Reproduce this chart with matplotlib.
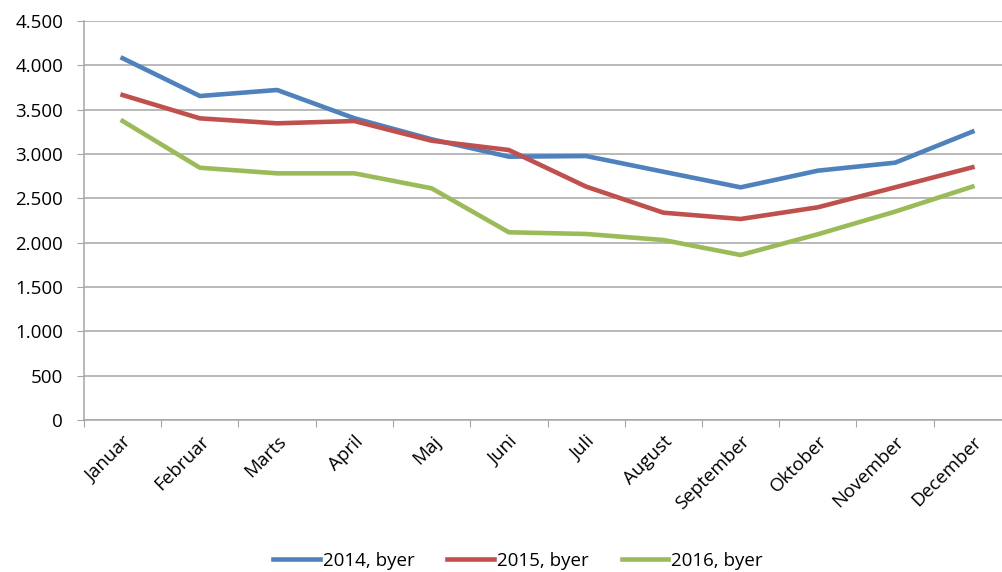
import matplotlib.pyplot as plt
from matplotlib.ticker import FuncFormatter, MultipleLocator

plt.rcParams['font.family'] = ['Open Sans', 'DejaVu Sans']

months = ['Januar', 'Februar', 'Marts', 'April', 'Maj', 'Juni', 'Juli',
          'August', 'September', 'Oktober', 'November', 'December']
byer_2014 = [4080, 3654, 3722, 3403, 3166, 2970, 2977, 2800, 2624, 2812, 2902, 3252]
byer_2015 = [3665, 3402, 3346, 3372, 3150, 3045, 2632, 2338, 2267, 2399, 2624, 2850]
byer_2016 = [3372, 2845, 2782, 2782, 2613, 2117, 2098, 2030, 1861, 2095, 2350, 2632]

fig = plt.figure(figsize=(10.02, 5.72), dpi=100)
ax = fig.add_axes([84 / 1002, 1 - 420 / 572, 927 / 1002, 399 / 572])

x = range(len(months))
ax.plot(x, byer_2014, color='#4F81BD', lw=3.3, label='2014, byer', solid_joinstyle='round')
ax.plot(x, byer_2015, color='#C0504D', lw=3.3, label='2015, byer', solid_joinstyle='round')
ax.plot(x, byer_2016, color='#9BBB59', lw=3.3, label='2016, byer', solid_joinstyle='round')

ax.set_xlim(-0.5, 11.5)
ax.set_ylim(0, 4500)
ax.yaxis.set_major_locator(MultipleLocator(500))
ax.yaxis.set_major_formatter(FuncFormatter(lambda v, p: f'{int(v):,}'.replace(',', '.')))
ax.grid(axis='y', color='#A6A6A6', lw=1.1)
ax.set_axisbelow(True)

ax.set_xticks([i - 0.5 for i in range(13)])
ax.set_xticklabels([])
ax.set_xticks(list(x), minor=True)
ax.set_xticklabels(months, minor=True, rotation=45, ha='right', rotation_mode='anchor')
ax.tick_params(axis='x', which='major', length=5, color='#A6A6A6', direction='out')
ax.tick_params(axis='x', which='minor', length=0, pad=9, labelsize=13.5, labelcolor='#000000')
ax.tick_params(axis='y', length=5, color='#A6A6A6', labelsize=13.5, pad=10)

for s in ['top', 'right']:
    ax.spines[s].set_visible(False)
for s in ['left', 'bottom']:
    ax.spines[s].set_color('#A6A6A6')
    ax.spines[s].set_linewidth(1.1)

fig.legend(loc='center', bbox_to_anchor=(518 / 1002, 1 - 561 / 572), ncol=3, frameon=False,
           fontsize=13.5, handlelength=2.5, handletextpad=0.15, columnspacing=1.75)

fig.savefig('out.png', dpi=100)
